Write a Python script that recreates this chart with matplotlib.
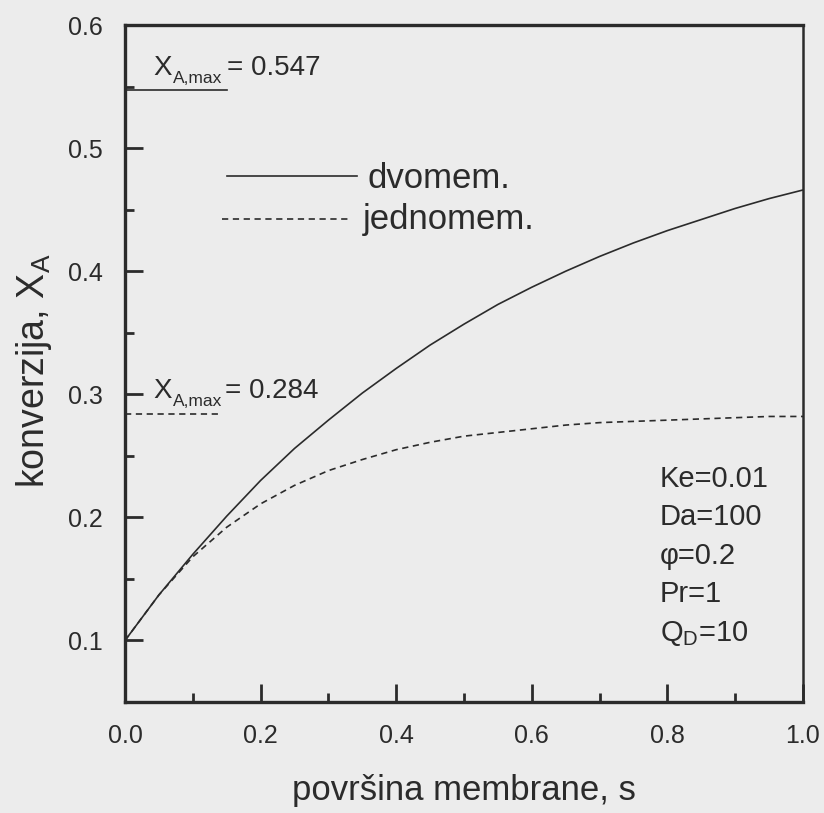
import matplotlib
matplotlib.use("Agg")
import matplotlib.pyplot as plt
from matplotlib.ticker import MultipleLocator

plt.rcParams['font.family'] = ['Liberation Sans', 'DejaVu Sans']
plt.rcParams['mathtext.fontset'] = 'custom'
plt.rcParams['mathtext.rm'] = 'Liberation Sans'
plt.rcParams['mathtext.it'] = 'Liberation Sans'
plt.rcParams['lines.scale_dashes'] = False

# membrane area s
s = [0.0, 0.05, 0.1, 0.15, 0.2, 0.25, 0.3, 0.35, 0.4, 0.45, 0.5,
     0.55, 0.6, 0.65, 0.7, 0.75, 0.8, 0.85, 0.9, 0.95, 1.0]
# conversion, two-membrane reactor
x_dvo = [0.100, 0.137, 0.170, 0.201, 0.230, 0.256, 0.279, 0.301, 0.321, 0.340, 0.357,
         0.373, 0.387, 0.400, 0.412, 0.423, 0.433, 0.442, 0.451, 0.459, 0.466]
# conversion, one-membrane reactor
x_jed = [0.100, 0.137, 0.168, 0.192, 0.211, 0.226, 0.238, 0.247, 0.255, 0.261, 0.266,
         0.269, 0.272, 0.275, 0.277, 0.278, 0.279, 0.280, 0.281, 0.282, 0.282]

xa_max_dvo = 0.547
xa_max_jed = 0.284
params = ['Ke=0.01', 'Da=100', 'φ=0.2', 'Pr=1', 'Q$_\\mathrm{D}$=10']

ink = '#2b2b2b'
bg = '#ececec'
dash = (4.5, 3.3)

fig = plt.figure(figsize=(8.24, 8.13), dpi=100, facecolor=bg)
ax = fig.add_axes([0.1517, 0.1365, 0.8228, 0.8327], facecolor=bg)

ax.plot(s, x_dvo, color=ink, lw=1.2)
ax.plot(s, x_jed, color=ink, lw=1.2, dashes=dash)

# maximum conversion marks
ax.plot([0, 0.15], [xa_max_dvo, xa_max_dvo], color=ink, lw=1.2)
ax.plot([0, 0.143], [xa_max_jed, xa_max_jed], color=ink, lw=1.2, dashes=dash)


def xmax_label(y0, xeq, val):
    ax.text(0.0413, y0, 'X', fontsize=20, color=ink, va='baseline')
    ax.text(0.0708, y0 - 0.0065, 'A,max', fontsize=12.5, color=ink, va='baseline')
    ax.text(xeq, y0, '= %.3f' % val, fontsize=20, color=ink, va='baseline')


xmax_label(0.5592, 0.1504, xa_max_dvo)
xmax_label(0.2966, 0.1475, xa_max_jed)

# legend drawn by hand
ax.plot([0.150, 0.342], [0.4777, 0.4777], color=ink, lw=1.2)
ax.plot([0.143, 0.335], [0.4426, 0.4426], color=ink, lw=1.2, dashes=dash)
ax.text(0.3584, 0.4679, 'dvomem.', fontsize=25, color=ink, va='baseline')
ax.text(0.351, 0.4344, 'jednomem.', fontsize=25, color=ink, va='baseline')

for i, p in enumerate(params):
    ax.text(0.789, 0.2248 - i * 0.03124, p, fontsize=21, color=ink, va='baseline')

ax.set_xlim(0, 1.0)
ax.set_ylim(0.05, 0.6)
ax.xaxis.set_minor_locator(MultipleLocator(0.1))
ax.yaxis.set_minor_locator(MultipleLocator(0.05))
ax.set_yticks([0.1, 0.2, 0.3, 0.4, 0.5, 0.6])
ax.set_xticks([0.0, 0.2, 0.4, 0.6, 0.8, 1.0])
ax.tick_params(which='both', direction='in', colors=ink, width=2.0)
ax.tick_params(which='major', length=13, labelsize=18, pad=16)
ax.tick_params(which='minor', length=6.5)

for side in ['left', 'bottom', 'top']:
    ax.spines[side].set_linewidth(2.4)
ax.spines['right'].set_linewidth(1.8)
for sp in ax.spines.values():
    sp.set_color(ink)

ax.set_xlabel('površina membrane, s', fontsize=25, color=ink, va='baseline')
ax.xaxis.set_label_coords(0.5, -0.1448)
ax.set_ylabel('konverzija, X$_\\mathrm{A}$', fontsize=27, color=ink)
ax.yaxis.set_label_coords(-0.104, 0.49)

fig.savefig('out.png', dpi=100, facecolor=bg)
